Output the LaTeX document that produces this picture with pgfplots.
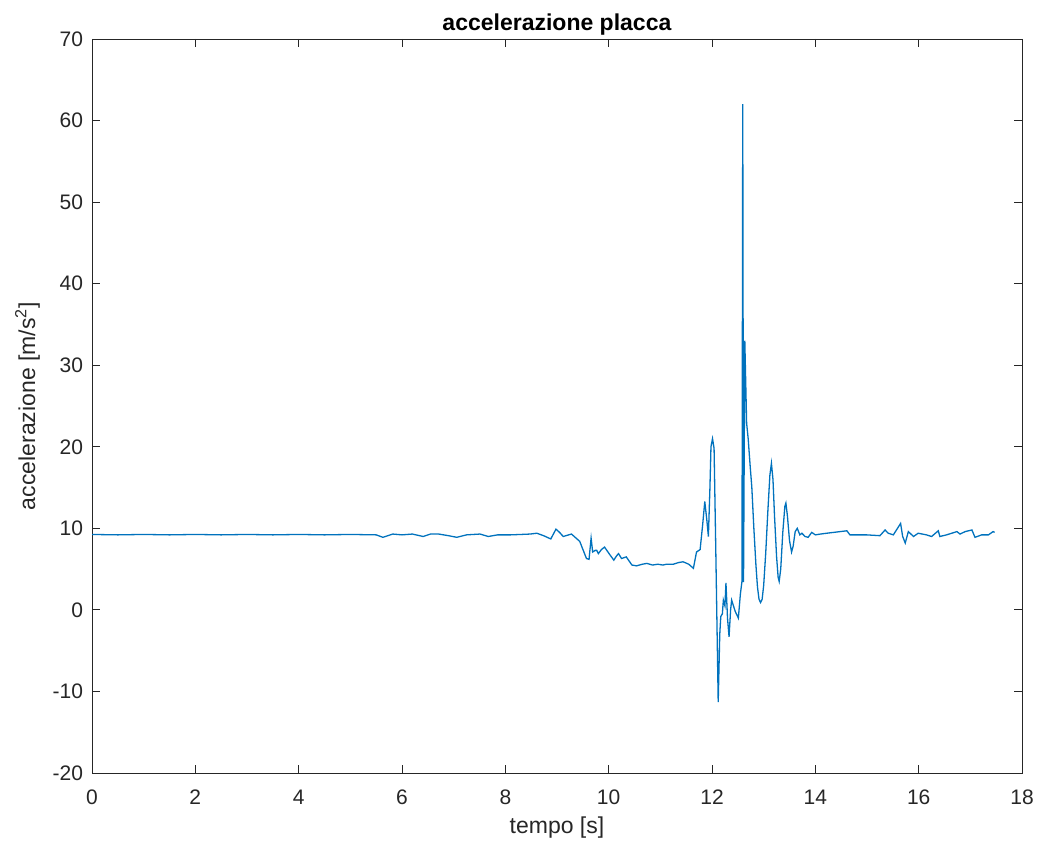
\documentclass[border=0pt]{standalone}
\usepackage{pgfplots}
\pgfplotsset{compat=1.18}
\usepackage{fontspec}
\setmainfont{Liberation Sans}
\definecolor{mblue}{rgb}{0,0.447,0.741}
\definecolor{axgray}{rgb}{0.15,0.15,0.15}
\begin{document}
\begin{tikzpicture}
\path[use as bounding box] (-46pt,-34pt) rectangle (472.5pt,386.5pt);
\begin{axis}[
  at={(0,0)}, anchor=south west,
  scale only axis, width=465pt, height=367pt,
  xmin=0, xmax=18, ymin=-20, ymax=70,
  xtick={0,2,...,18}, ytick={-20,-10,...,70},
  tick align=inside, tick pos=both,
  major tick length=4pt,
  axis line style={axgray, line width=0.4pt},
  every tick/.style={axgray, line width=0.4pt},
  ticklabel style={font=\fontsize{10.5}{12}\selectfont, text=axgray},
  /pgf/number format/assume math mode=true,
  xticklabel style={yshift=-5pt},
  yticklabel style={xshift=-1pt},
  title={\textbf{accelerazione placca}},
  title style={font=\fontsize{11.5}{13}\selectfont, yshift=-7.5pt},
  xlabel={tempo [s]}, ylabel={accelerazione [m/s\textsuperscript{2}]},
  label style={font=\fontsize{11.5}{13}\selectfont, text=axgray},
  xlabel style={yshift=1pt},
  ylabel style={yshift=-0.5pt},
]
\addplot[mblue, line width=0.65pt] coordinates {
(0,9.25) (0.5,9.2) (1,9.25) (1.5,9.2) (2,9.25) (2.5,9.2) (3,9.25) (3.5,9.2) (4,9.25) (4.5,9.2) (5,9.25) (5.5,9.2)
(5.63,8.9) (5.82,9.3) (6.0,9.2) (6.2,9.3) (6.41,9.0) (6.55,9.3) (6.71,9.3) (6.9,9.1) (7.06,8.9) (7.25,9.2)
(7.51,9.3) (7.67,9.0) (7.85,9.2) (8.1,9.2) (8.3,9.25) (8.48,9.3) (8.61,9.4) (8.74,9.1) (8.88,8.7) (8.98,9.9)
(9.05,9.5) (9.12,9.0) (9.28,9.3) (9.44,8.4) (9.57,6.3) (9.62,6.2) (9.66,8.8) (9.69,7.1) (9.74,7.3) (9.77,7.3)
(9.80,6.9) (9.86,7.4) (9.92,7.7) (10.03,6.7) (10.10,6.1) (10.15,6.6) (10.19,6.9) (10.25,6.3) (10.34,6.5)
(10.45,5.5) (10.54,5.4) (10.65,5.6) (10.74,5.7) (10.85,5.5) (10.95,5.6) (11.05,5.5) (11.12,5.6) (11.25,5.6)
(11.35,5.8) (11.44,5.9) (11.55,5.6) (11.64,5.1) (11.70,7.1) (11.77,7.4) (11.82,10.5) (11.86,13.3) (11.90,11) (11.93,9.0) (11.96,15) (11.98,20.0)
(12.01,21.0) (12.04,19.8) (12.07,8.6) (12.12,-11.3) (12.15,-3) (12.17,-0.8) (12.20,-0.5) (12.22,1.2) (12.25,0.5)
(12.27,3.3) (12.30,-1) (12.33,-3.3) (12.36,0) (12.38,1.2) (12.45,-0.2) (12.51,-1.0) (12.55,2.0) (12.58,3.5)
(12.595,62) (12.61,3.4) (12.635,33) (12.67,22.9) (12.70,21) (12.74,17.5) (12.77,15.1) (12.81,10) (12.85,5.5)
(12.88,2.8) (12.91,1.3) (12.94,0.9) (12.97,1.3) (13.00,3.0) (13.04,7) (13.08,12) (13.12,16.5) (13.15,17.97)
(13.18,16) (13.21,11.5) (13.25,6.5) (13.28,4.0) (13.30,3.5) (13.33,5) (13.37,9.5) (13.41,12.7) (13.43,13.1)
(13.46,11.5) (13.50,8.5) (13.54,7.1) (13.57,7.8) (13.61,9.6) (13.65,10.0) (13.70,9.2)
(13.74,9.4) (13.80,9.0) (13.86,8.9) (13.93,9.5) (14.0,9.2) (14.1,9.3) (14.22,9.4) (14.35,9.5)
(14.48,9.6) (14.61,9.7) (14.67,9.2) (14.8,9.2) (14.99,9.2) (15.25,9.1) (15.35,9.8) (15.41,9.4) (15.51,9.2)
(15.65,10.6) (15.69,9.0) (15.74,8.2) (15.80,9.6) (15.90,9.0) (15.99,9.4) (16.15,9.2) (16.25,9.0) (16.38,9.7)
(16.41,9.0) (16.54,9.2) (16.64,9.4) (16.74,9.6) (16.80,9.3) (16.90,9.6) (17.03,9.8) (17.09,8.9) (17.22,9.2)
(17.35,9.2) (17.44,9.6) (17.47,9.5)
};
\end{axis}
\end{tikzpicture}
\end{document}
